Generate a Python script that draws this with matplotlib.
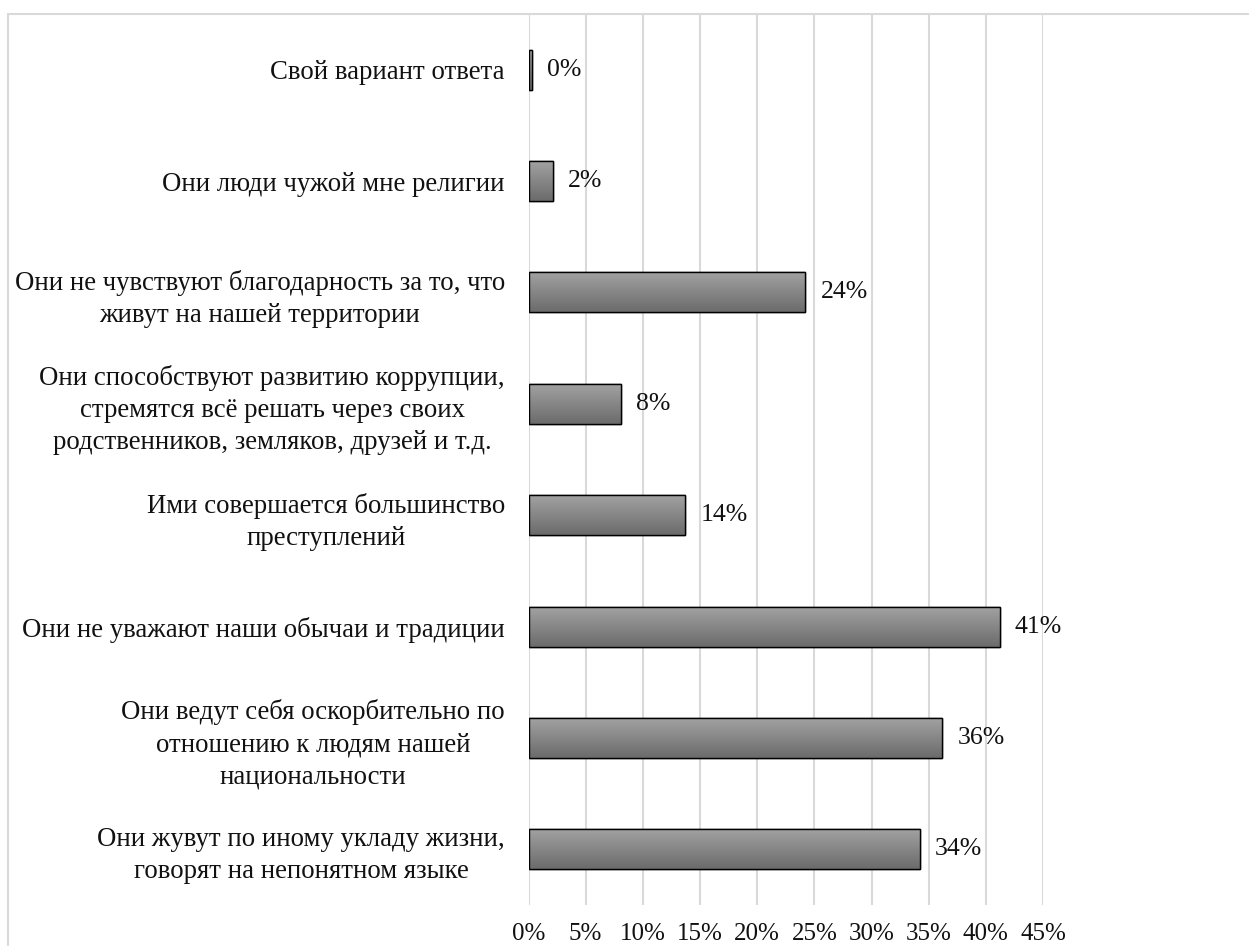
import numpy as np
import matplotlib
matplotlib.use('Agg')
import matplotlib.pyplot as plt
from matplotlib.patches import Rectangle
from matplotlib.colors import LinearSegmentedColormap

plt.rcParams['font.family'] = ['Liberation Serif', 'DejaVu Serif']

# categories, top to bottom as in the picture
categories = [
    'Свой вариант ответа',
    'Они люди чужой мне религии',
    'Они не чувствуют благодарность за то, что\nживут на нашей территории',
    'Они способствуют развитию коррупции,\nстремятся всё решать через своих\nродственников, земляков, друзей и т.д.',
    'Ими совершается большинство\nпреступлений',
    'Они не уважают наши обычаи и традиции',
    'Они ведут себя оскорбительно по\nотношению к людям нашей\nнациональности',
    'Они жувут по иному укладу жизни,\nговорят на непонятном языке',
]
values = [0.3, 2.1, 24.2, 8.1, 13.7, 41.2, 36.2, 34.2]
value_labels = ['0%', '2%', '24%', '8%', '14%', '41%', '36%', '34%']
x_ticks = [0, 5, 10, 15, 20, 25, 30, 35, 40, 45]
x_ticklabels = [f'{t}%' for t in x_ticks]

W, H = 1249, 946
fig = plt.figure(figsize=(W / 100, H / 100), dpi=100)
ax = fig.add_axes([528.5 / W, 1 - 905 / H, (1043 - 528.5) / W, (905 - 14) / H])

pos = np.arange(len(categories))
bars = ax.barh(pos, values, height=0.36, color='#888888', edgecolor='black',
               linewidth=1.0, zorder=3)

# vertical gradient like the original fill
grad = np.linspace(0, 1, 64).reshape(-1, 1)
cmap = LinearSegmentedColormap.from_list('g', ['#a3a3a3', '#6b6b6b'])
for b in bars:
    x0, y0 = b.get_x(), b.get_y()
    w, h = b.get_width(), b.get_height()
    im = ax.imshow(grad, cmap=cmap, extent=(x0, x0 + w, y0 + h, y0),
                   aspect='auto', zorder=3.5, origin='upper')
    im.set_clip_path(b)
    ax.add_patch(Rectangle((x0, y0), w, h, fill=False, edgecolor='black',
                           linewidth=1.0, zorder=4))

for p, v, lab in zip(pos, values, value_labels):
    ax.annotate(lab, xy=(v, p), xytext=(11, 0), textcoords='offset points',
                va='center', ha='left', fontsize=18.5, color='#111111')

ax.set_xlim(0, 45)
ax.set_ylim(len(categories) - 0.5, -0.5)
ax.set_xticks(x_ticks)
ax.set_xticklabels(x_ticklabels, fontsize=18, color='#111111')
ax.set_yticks(pos)
ax.set_yticklabels(categories, fontsize=19.3, color='#111111')
for t in ax.get_yticklabels():
    t.set_multialignment('center')
    t.set_linespacing(1.37)
ax.tick_params(axis='y', length=0, pad=17)
ax.tick_params(axis='x', length=0, pad=13)
ax.grid(axis='x', color='#d9d9d9', linewidth=1.5, zorder=0)
ax.set_axisbelow(True)
for s in ax.spines.values():
    s.set_visible(False)

# light frame around the chart area
fig.patches.append(Rectangle((8 / W, -0.5), 2, 0.5 + 1 - 14 / H, transform=fig.transFigure,
                             fill=False, edgecolor='#d9d9d9', linewidth=1.5))

fig.savefig('out.png', dpi=100)
